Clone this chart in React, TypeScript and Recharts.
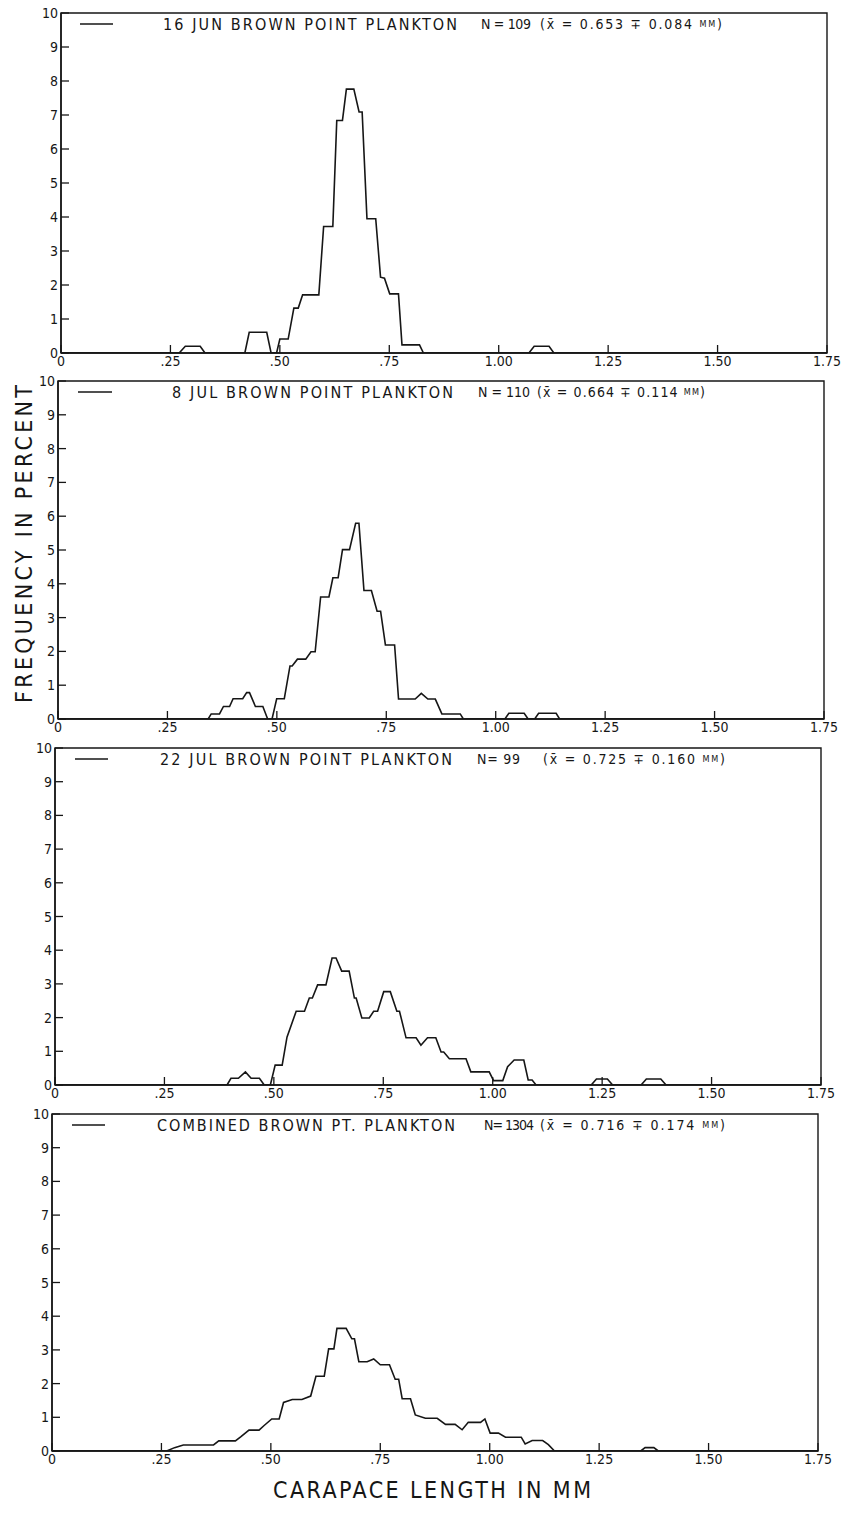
import { LineChart, Line, XAxis, YAxis, ReferenceArea } from "recharts";

// size-frequency polygons, carapace length (mm) vs percent
const jun16X = [0, 0.27, 0.284, 0.318, 0.329, 0.42, 0.43, 0.47, 0.48, 0.4925, 0.5, 0.519, 0.532, 0.542, 0.552, 0.589, 0.6, 0.621, 0.63, 0.643, 0.652, 0.669, 0.681, 0.688, 0.699, 0.719, 0.73, 0.739, 0.751, 0.771, 0.779, 0.819, 0.828, 1.069, 1.081, 1.115, 1.126, 1.75];
const jun16Y = [0, 0, 0.2, 0.2, 0, 0, 0.61, 0.61, 0, 0, 0.41, 0.41, 1.32, 1.32, 1.71, 1.71, 3.72, 3.72, 6.84, 6.84, 7.76, 7.76, 7.09, 7.09, 3.95, 3.95, 2.23, 2.2, 1.74, 1.74, 0.24, 0.24, 0, 0, 0.2, 0.2, 0, 0];

const jul8X = [0, 0.343, 0.35, 0.369, 0.378, 0.392, 0.4, 0.422, 0.431, 0.4375, 0.451, 0.468, 0.479, 0.489, 0.4996, 0.517, 0.53, 0.535, 0.547, 0.566, 0.578, 0.5875, 0.6, 0.619, 0.628, 0.64, 0.65, 0.666, 0.68, 0.6875, 0.699, 0.716, 0.729, 0.737, 0.748, 0.769, 0.778, 0.816, 0.83, 0.845, 0.862, 0.877, 0.919, 0.926, 1.021, 1.03, 1.065, 1.074, 1.089, 1.098, 1.138, 1.146, 1.75];
const jul8Y = [0, 0, 0.15, 0.15, 0.37, 0.37, 0.6, 0.6, 0.78, 0.78, 0.37, 0.37, 0, 0, 0.6, 0.6, 1.57, 1.57, 1.77, 1.77, 1.99, 1.99, 3.61, 3.61, 4.18, 4.18, 5.01, 5.01, 5.79, 5.79, 3.8, 3.8, 3.19, 3.19, 2.19, 2.19, 0.59, 0.59, 0.76, 0.59, 0.59, 0.15, 0.15, 0, 0, 0.17, 0.17, 0, 0, 0.17, 0.17, 0, 0];

const jul22X = [0, 0.393, 0.402, 0.419, 0.435, 0.448, 0.467, 0.478, 0.492, 0.503, 0.519, 0.53, 0.551, 0.57, 0.581, 0.588, 0.6, 0.619, 0.633, 0.642, 0.655, 0.672, 0.684, 0.688, 0.701, 0.718, 0.728, 0.737, 0.751, 0.766, 0.781, 0.787, 0.802, 0.825, 0.836, 0.851, 0.87, 0.882, 0.888, 0.901, 0.939, 0.95, 0.992, 1.002, 1.023, 1.034, 1.049, 1.071, 1.081, 1.09, 1.099, 1.225, 1.237, 1.262, 1.274, 1.339, 1.351, 1.384, 1.396, 1.75];
const jul22Y = [0, 0, 0.2, 0.2, 0.39, 0.2, 0.2, 0, 0, 0.59, 0.59, 1.42, 2.19, 2.19, 2.58, 2.58, 2.97, 2.97, 3.77, 3.77, 3.38, 3.38, 2.58, 2.58, 1.99, 1.99, 2.19, 2.19, 2.77, 2.77, 2.19, 2.19, 1.4, 1.4, 1.18, 1.4, 1.4, 0.98, 0.98, 0.78, 0.78, 0.39, 0.39, 0.13, 0.13, 0.54, 0.74, 0.74, 0.15, 0.15, 0, 0, 0.18, 0.18, 0, 0, 0.18, 0.18, 0, 0];

const combX = [0, 0.262, 0.28, 0.3, 0.369, 0.381, 0.419, 0.431, 0.45, 0.473, 0.484, 0.502, 0.519, 0.529, 0.549, 0.571, 0.591, 0.603, 0.622, 0.632, 0.644, 0.651, 0.672, 0.685, 0.691, 0.701, 0.72, 0.735, 0.75, 0.771, 0.784, 0.792, 0.8, 0.819, 0.83, 0.853, 0.88, 0.899, 0.921, 0.937, 0.951, 0.979, 0.989, 1.001, 1.02, 1.036, 1.072, 1.081, 1.097, 1.121, 1.134, 1.148, 1.345, 1.355, 1.375, 1.385, 1.75];
const combY = [0, 0, 0.1, 0.18, 0.18, 0.3, 0.3, 0.42, 0.62, 0.62, 0.75, 0.95, 0.95, 1.44, 1.53, 1.53, 1.63, 2.22, 2.22, 3.03, 3.03, 3.64, 3.64, 3.33, 3.33, 2.65, 2.65, 2.73, 2.56, 2.56, 2.13, 2.13, 1.55, 1.55, 1.07, 0.97, 0.97, 0.79, 0.79, 0.63, 0.85, 0.85, 0.95, 0.53, 0.53, 0.41, 0.41, 0.21, 0.31, 0.31, 0.19, 0, 0, 0.1, 0.1, 0, 0];

const panelTitles = ["16 JUN BROWN POINT PLANKTON", "8 JUL BROWN POINT PLANKTON", "22 JUL BROWN POINT PLANKTON", "COMBINED BROWN PT. PLANKTON"];
const panelCounts = ["N = 109", "N = 110", "N=  99", "N= 1304"];
const panelMeans = ["0.653", "0.664", "0.725", "0.716"];
const panelSds = ["0.084", "0.114", "0.160", "0.174"];

const xTicks = [0, 0.25, 0.5, 0.75, 1, 1.25, 1.5, 1.75];
const xTickLabels = ["0", ".25", ".50", ".75", "1.00", "1.25", "1.50", "1.75"];
const yTicks = [0, 1, 2, 3, 4, 5, 6, 7, 8, 9, 10];

const series = [
  [jun16X, jun16Y],
  [jul8X, jul8Y],
  [jul22X, jul22Y],
  [combX, combY],
];

// plot-area placement of each scanned panel (slightly skewed in the original)
const PLOT_W = 766;
const PAD_TOP = 10;
const frames = [
  { left: 61, top: 13, h: 340, leg: [80, 113, 163, 457, 481, 531, 540, 722] },
  { left: 58, top: 381, h: 338, leg: [78, 112, 172, 453, 478, 530, 537, 705] },
  { left: 55, top: 748, h: 337, leg: [75, 108, 160, 452, 477, 520, 543, 725] },
  { left: 52, top: 1114, h: 337, leg: [72, 105, 157, 455, 484, 534, 540, 725] },
];

const INK = "#161616";
const FONT = "'DejaVu Sans Condensed', 'DejaVu Sans', sans-serif";

function Panel({ idx }: { idx: number }) {
  const f = frames[idx];
  const [xs, ys] = series[idx];
  const data = xs.map((x, i) => ({ x, y: ys[i] }));
  const base = PAD_TOP + f.h;

  // inward tick marks, labels outside (as on the plotter output)
  const xTick = (props: any) => {
    const { x, payload } = props;
    return (
      <g>
        <line x1={x} x2={x} y1={base} y2={base - 8} stroke={INK} strokeWidth={1.3} />
        <text x={x} y={base + 13} textAnchor="middle" fontSize={14} fontFamily={FONT} fill={INK}>
          {xTickLabels[xTicks.indexOf(payload.value)]}
        </text>
      </g>
    );
  };
  const yTick = (props: any) => {
    const { y, payload } = props;
    return (
      <g>
        <line x1={f.left} x2={f.left + 8} y1={y} y2={y} stroke={INK} strokeWidth={1.3} />
        <text x={f.left - 3} y={y + 5} textAnchor="end" fontSize={14} fontFamily={FONT} fill={INK}>
          {payload.value}
        </text>
      </g>
    );
  };

  return (
    <div style={{ position: "absolute", left: 0, top: f.top - PAD_TOP }}>
      <LineChart
        width={846}
        height={f.h + PAD_TOP + 30}
        data={data}
        margin={{ top: PAD_TOP, right: 846 - f.left - PLOT_W, bottom: 10, left: 0 }}
      >
        <XAxis
          type="number"
          dataKey="x"
          domain={[0, 1.75]}
          ticks={xTicks}
          interval={0}
          allowDataOverflow
          height={20}
          tickLine={false}
          axisLine={{ stroke: INK, strokeWidth: 1.5 }}
          tick={xTick}
        />
        <YAxis
          type="number"
          domain={[0, 10]}
          ticks={yTicks}
          interval={0}
          allowDataOverflow
          width={f.left}
          tickLine={false}
          axisLine={{ stroke: INK, strokeWidth: 1.5 }}
          tick={yTick}
        />
        <ReferenceArea x1={0} x2={1.75} y1={0} y2={10} fill="none" stroke={INK} strokeWidth={1.4} />
        <Line
          dataKey="y"
          type="linear"
          stroke={INK}
          strokeWidth={1.6}
          dot={false}
          isAnimationActive={false}
        />
      </LineChart>
    </div>
  );
}

export default function App() {
  return (
    <div style={{ position: "absolute", left: 0, top: 0, width: 846, height: 1513, background: "#fff" }}>
      {frames.map((_, i) => (
        <Panel key={i} idx={i} />
      ))}
      <svg
        width={846}
        height={1513}
        style={{ position: "absolute", left: 0, top: 0, pointerEvents: "none" }}
        fontFamily={FONT}
        fill={INK}
      >
        {frames.map((f, i) => {
          const y = f.top + 11;
          const [l1, l2, t1, t2, n1, n2, p1, p2] = f.leg;
          return (
            <g key={i}>
              <line x1={l1} x2={l2} y1={y} y2={y} stroke={INK} strokeWidth={1.4} />
              <text x={t1} y={y} dominantBaseline="central" fontSize={16} textLength={t2 - t1} lengthAdjust="spacing">
                {panelTitles[i]}
              </text>
              <text x={n1} y={y} dominantBaseline="central" fontSize={14} textLength={n2 - n1} lengthAdjust="spacing">
                {panelCounts[i]}
              </text>
              <text x={p1} y={y} dominantBaseline="central" fontSize={14} textLength={p2 - p1} lengthAdjust="spacing">
                {`(x\u0304 = ${panelMeans[i]} \u2213 ${panelSds[i]} `}
                <tspan fontSize={9}>MM</tspan>
                {")"}
              </text>
            </g>
          );
        })}
        <text
          transform="translate(24,544) rotate(-90)"
          textAnchor="middle"
          dominantBaseline="central"
          fontSize={23}
          textLength={318}
          lengthAdjust="spacing"
        >
          FREQUENCY IN PERCENT
        </text>
        <text x={432} y={1490} textAnchor="middle" dominantBaseline="central" fontSize={23} textLength={318} lengthAdjust="spacing">
          CARAPACE LENGTH IN MM
        </text>
      </svg>
    </div>
  );
}
